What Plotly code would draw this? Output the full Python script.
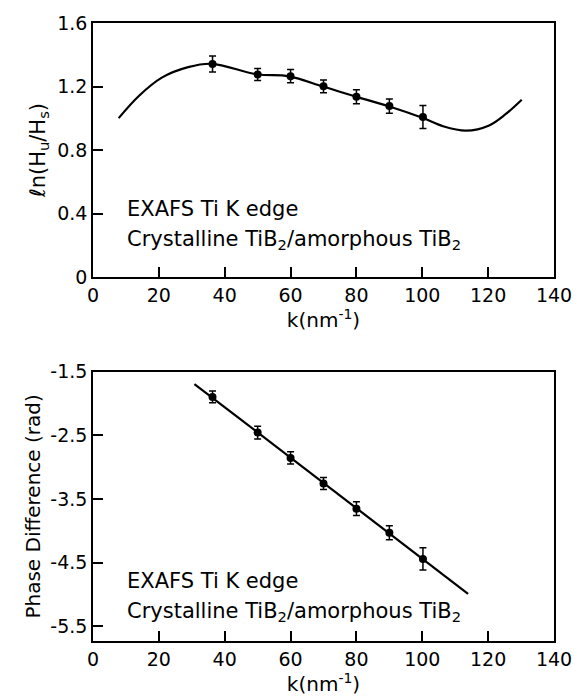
import plotly.graph_objects as go

# ---- Top panel: ln(Hu/Hs) vs k ----
k_pts = [36.3, 50.0, 60.0, 70.0, 80.0, 90.0, 100.2]
ln_ratio = [1.342, 1.276, 1.265, 1.201, 1.136, 1.077, 1.008]
ln_err = [0.050, 0.038, 0.042, 0.040, 0.044, 0.045, 0.072]

k_curve = [7.8, 14.0, 20.9, 28.9, 36.1, 49.7, 59.5, 69.8, 79.8, 89.8, 100.0, 106.3, 113.3, 120.3, 125.2, 130.2]
ln_curve = [1.001, 1.142, 1.256, 1.322, 1.343, 1.277, 1.264, 1.200, 1.136, 1.076, 1.003, 0.950, 0.922, 0.955, 1.024, 1.117]

# ---- Bottom panel: phase difference vs k ----
phase = [-1.895, -2.455, -2.853, -3.256, -3.650, -4.028, -4.441]
phase_err = [0.093, 0.100, 0.095, 0.095, 0.108, 0.110, 0.175]
k_line = [30.8, 113.9]
phase_line = [-1.692, -4.988]

x_ticks = [0, 20, 40, 60, 80, 100, 120, 140]
top_ticks = [0, 0.4, 0.8, 1.2, 1.6]
top_ticktext = ["0", "0.4", "0.8", "1.2", "1.6"]
bot_ticks = [-1.5, -2.5, -3.5, -4.5, -5.5]
bot_ticktext = ["-1.5", "-2.5", "-3.5", "-4.5", "-5.5"]

FONT = "DejaVu Sans"
black = "black"

fig = go.Figure()

fig.add_trace(go.Scatter(x=k_curve, y=ln_curve, mode="lines", line=dict(color=black, width=2.2, shape="spline", smoothing=1.0),
                         xaxis="x", yaxis="y", showlegend=False, hoverinfo="skip"))
fig.add_trace(go.Scatter(x=k_pts, y=ln_ratio, mode="markers", marker=dict(color=black, size=8),
                         error_y=dict(type="data", array=ln_err, color=black, thickness=1.5, width=3.5),
                         xaxis="x", yaxis="y", showlegend=False))

fig.add_trace(go.Scatter(x=k_line, y=phase_line, mode="lines", line=dict(color=black, width=2.2),
                         xaxis="x2", yaxis="y2", showlegend=False, hoverinfo="skip"))
fig.add_trace(go.Scatter(x=k_pts, y=phase, mode="markers", marker=dict(color=black, size=8),
                         error_y=dict(type="data", array=phase_err, color=black, thickness=1.5, width=3.5),
                         xaxis="x2", yaxis="y2", showlegend=False))

axis_common = dict(showline=True, mirror=True, linecolor=black, linewidth=1.5, ticks="inside", ticklen=10,
                   tickwidth=1.5, tickcolor=black, showgrid=False, zeroline=False,
                   tickfont=dict(family=FONT, size=19, color=black))

fig.update_layout(
    width=584, height=698,
    margin=dict(l=93, r=21, t=19, b=50),
    paper_bgcolor="white", plot_bgcolor="white",
    xaxis=dict(domain=[0, 1], range=[0, 140], tickvals=x_ticks, anchor="y",
               title=dict(text="k(nm<sup>-1</sup>)", font=dict(family=FONT, size=20, color=black), standoff=2),
               **axis_common),
    yaxis=dict(domain=[0.589, 1], range=[0, 1.6], tickvals=top_ticks, ticktext=top_ticktext, anchor="x",
               title=dict(text="ℓn(H<sub>u</sub>/H<sub>s</sub>)", font=dict(family=FONT, size=21, color=black), standoff=6),
               **axis_common),
    xaxis2=dict(domain=[0, 1], range=[0, 140], tickvals=x_ticks, anchor="y2",
                title=dict(text="k(nm<sup>-1</sup>)", font=dict(family=FONT, size=20, color=black), standoff=2),
                **axis_common),
    yaxis2=dict(domain=[0, 0.4356], range=[-5.73, -1.5], tickvals=bot_ticks, ticktext=bot_ticktext, anchor="x2",
                title=dict(text="Phase Difference (rad)", font=dict(family=FONT, size=20, color=black), standoff=4),
                **axis_common),
)

ann_font = dict(family=FONT, size=21, color=black)
fig.add_annotation(x=9.6, y=0.43, xref="x", yref="y", text="EXAFS Ti K edge", showarrow=False, xanchor="left", font=ann_font)
fig.add_annotation(x=9.6, y=0.23, xref="x", yref="y", text="Crystalline TiB<sub>2</sub>/amorphous TiB<sub>2</sub>",
                   showarrow=False, xanchor="left", font=ann_font)
fig.add_annotation(x=9.6, y=-4.79, xref="x2", yref="y2", text="EXAFS Ti K edge", showarrow=False, xanchor="left", font=ann_font)
fig.add_annotation(x=9.6, y=-5.28, xref="x2", yref="y2", text="Crystalline TiB<sub>2</sub>/amorphous TiB<sub>2</sub>",
                   showarrow=False, xanchor="left", font=ann_font)

fig.write_html("out.html")
